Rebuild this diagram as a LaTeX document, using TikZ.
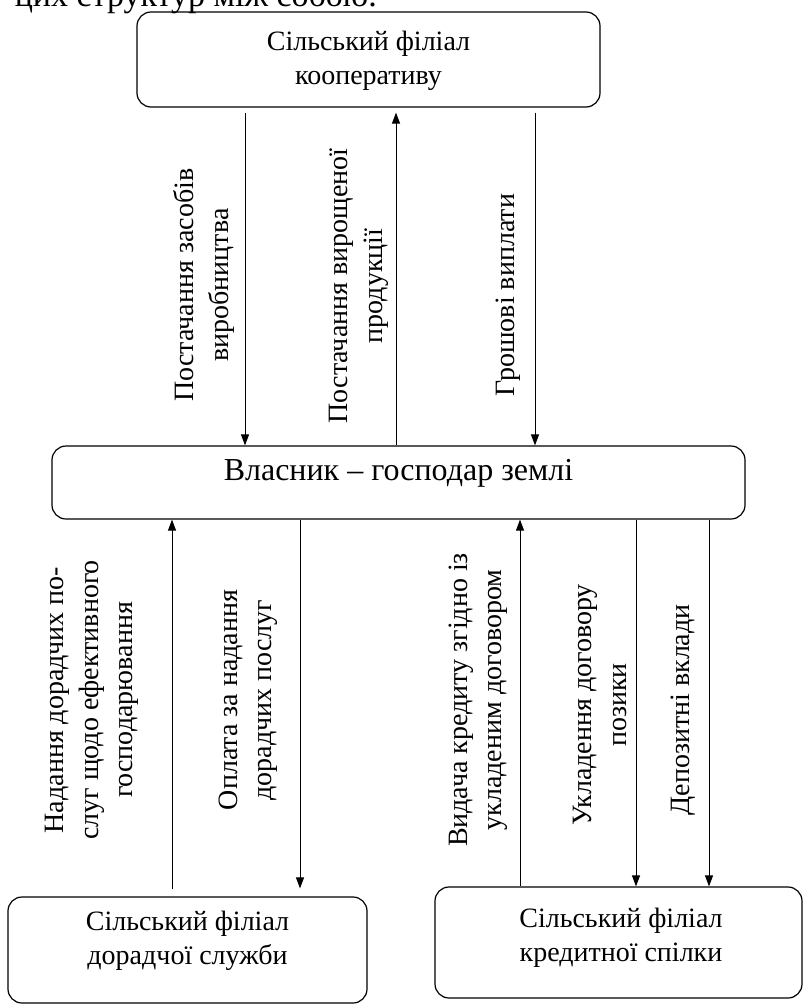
\documentclass[tikz,border=0pt]{standalone}
\usepackage{fontspec}
\setmainfont{Liberation Serif}
\usetikzlibrary{arrows.meta}
\begin{document}
\begin{tikzpicture}[x=1pt,y=-1pt,
  box/.style={draw, line width=1.2pt, rounded corners=14pt, inner sep=0pt},
  txt/.style={font=\fontsize{28}{34.5}\selectfont, align=center, inner sep=0pt},
  bigtxt/.style={font=\fontsize{32}{38}\selectfont, inner sep=0pt},
  fragtxt/.style={font=\fontsize{34}{40}\selectfont, inner sep=0pt},
  lbl/.style={txt, rotate=90},
  arr/.style={line width=1pt, -{Triangle[length=11pt,width=8pt]}}]
\useasboundingbox (0,0) rectangle (804,1006);
\begin{scope}
\clip (0,0) rectangle (804,1006);
\node[fragtxt, anchor=base east] (frag) at (377,7) {цих структур між собою.};
\end{scope}
% boxes
\node[box, minimum width=463pt, minimum height=95pt] (coop) at (368.5,59.5) {};
\node[txt] (cooptext) at (368.5,61) {Сільський філіал\\кооперативу};
\node[box, minimum width=693pt, minimum height=73pt] (owner) at (398.5,482.5) {};
\node[bigtxt, anchor=base] (ownertext) at (398.5,480) {Власник – господар землі};
\node[box, minimum width=359pt, minimum height=106pt] (advice) at (187.5,950) {};
\node[txt] (advicetext) at (187.5,941) {Сільський філіал\\дорадчої служби};
\node[box, minimum width=367pt, minimum height=111pt] (credit) at (618.5,942.5) {};
\node[txt] (credittext) at (621,938) {Сільський філіал\\кредитної спілки};
% labels
\node[lbl] (l1) at (204,285) {Постачання засобів\\виробництва};
\node[lbl] (l2) at (359,286) {Постачання вирощеної\\продукції};
\node[lbl] (l3) at (508,295) {Грошові виплати};
\node[lbl] (l4) at (92,700) {Надання дорадчих по-\\слуг щодо ефективного\\господарювання};
\node[lbl] (l5) at (248,700) {Оплата за надання\\дорадчих послуг};
\node[lbl] (l6) at (478,700) {Видача кредиту згідно із\\укладеним договором};
\node[lbl] (l7) at (600,705) {Укладення договору\\позики};
\node[lbl] (l8) at (683,710) {Депозитні вклади};
% arrows top
\draw[arr, shorten <=5pt] (coop.south -| 245,0) -- (owner.north -| 245,0);
\draw[arr, shorten >=5pt] (owner.north -| 396,0) -- (coop.south -| 396,0);
\draw[arr, shorten <=5pt] (coop.south -| 535,0) -- (owner.north -| 535,0);
% arrows bottom
\draw[arr, shorten <=7pt] (advice.north -| 172,0) -- (owner.south -| 172,0);
\draw[arr, shorten >=8pt] (owner.south -| 300,0) -- (advice.north -| 300,0);
\draw[arr] (credit.north -| 520,0) -- (owner.south -| 520,0);
\draw[arr] (owner.south -| 636,0) -- (credit.north -| 636,0);
\draw[arr] (owner.south -| 709,0) -- (credit.north -| 709,0);
\end{tikzpicture}
\end{document}
